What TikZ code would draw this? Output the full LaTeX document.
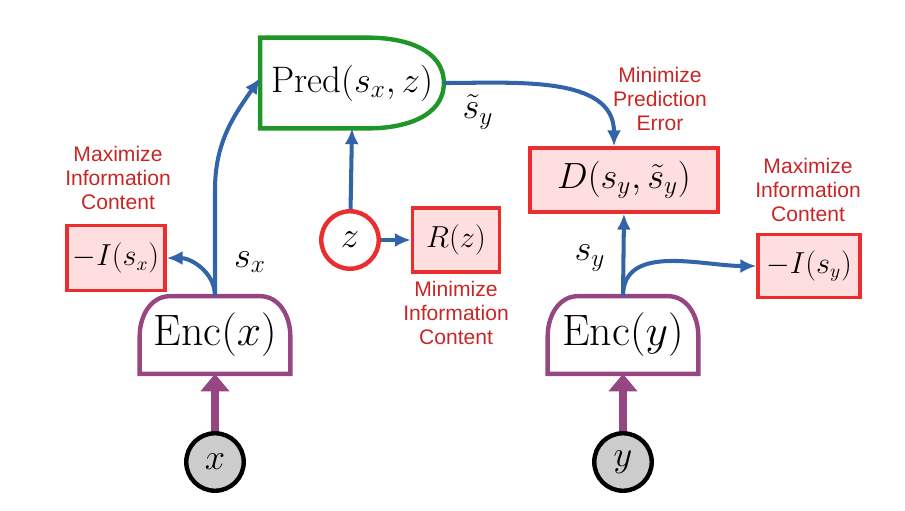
\documentclass[tikz,border=0pt]{standalone}
\usepackage{fontspec}
\newfontfamily\notefont{Liberation Sans}
\usetikzlibrary{positioning,arrows.meta}
\definecolor{encpurple}{RGB}{150,70,130}
\definecolor{predgreen}{RGB}{30,150,40}
\definecolor{costred}{RGB}{235,45,45}
\definecolor{costfill}{RGB}{255,222,224}
\definecolor{flowblue}{RGB}{50,100,170}
\tikzset{
  cost/.style={draw=costred, fill=costfill, line width=2pt, inner sep=3pt},
  note/.style={text=costred!85!black, font=\notefont\fontsize{12}{13.5}\selectfont, align=center, inner sep=1pt},
  flow/.style={draw=flowblue, line width=2.3pt, -{Latex[length=9pt,width=8pt]}},
  feed/.style={draw=encpurple, line width=5pt, -{Triangle[length=10pt,width=16pt]}},
  var/.style={circle, draw, line width=2.5pt, minimum size=1.15cm, inner sep=0pt, font=\fontsize{22}{24}\selectfont}
}
\begin{document}
\begin{tikzpicture}[x=0.02cm,y=-0.02cm]
        \useasboundingbox (0,0) rectangle (905,510);
        % Nodes
        \node (encx) at (215,335) [minimum width=3cm, minimum height=1.54cm, font=\fontsize{25}{28}\selectfont] {$\mathrm{Enc}(x)$};
        \node (ency) at (623,335) [minimum width=3cm, minimum height=1.54cm, font=\fontsize{25}{28}\selectfont] {$\mathrm{Enc}(y)$};
        \node (pred) at (352,83) [minimum width=3.66cm, minimum height=1.8cm, font=\fontsize{21}{24}\selectfont] {$\mathrm{Pred}(s_x,z)$};
        \node (x) at (215,462) [var, fill=black!20] {$x$};
        \node (y) at (623,462) [var, fill=black!20] {$y$};
        \node (z) at (350,240) [var, draw=costred, fill=white] {$z$};
        \node (rz) at (456,240) [cost, minimum width=1.74cm, minimum height=1.28cm, font=\fontsize{19}{22}\selectfont] {$R(z)$};
        \node (ix) at (116,258) [cost, minimum width=1.96cm, minimum height=1.3cm, font=\fontsize{16}{18}\selectfont] {$-I(s_x)$};
        \node (iy) at (809,266) [cost, minimum width=2.04cm, minimum height=1.26cm, font=\fontsize{16}{18}\selectfont] {$-I(s_y)$};
        \node (dist) at (624,180) [cost, minimum width=3.76cm, minimum height=1.28cm, font=\fontsize{21}{24}\selectfont] {$D(s_y,\tilde{s}_y)$};
        % Notes
        \node [note] at (118,178) {Maximize\\Information\\Content};
        \node [note] at (456,313) {Minimize\\Information\\Content};
        \node [note] at (660,99) {Minimize\\Prediction\\Error};
        \node [note] at (808,190) {Maximize\\Information\\Content};
        % Shapes
        \foreach \e in {encx,ency} {
            \draw[encpurple, line width=2.5pt] (\e.south west) -- ([yshift=-0.8cm]\e.north west)
                to[out=90,in=180] ([xshift=-0.9cm]\e.north) -- ([xshift=0.9cm]\e.north)
                to[out=0,in=90] ([yshift=-0.8cm]\e.north east) -- (\e.south east) -- cycle;
        }
        \draw[predgreen, line width=2.5pt] (pred.south west) -- (pred.north west) -- ([xshift=-1.5cm]pred.north east)
            to[out=0,in=90] (pred.east) to[out=-90,in=0] ([xshift=-1.5cm]pred.south east) -- cycle;
        % Edges
        \draw[feed] (x) -- (encx.south);
        \draw[feed] (y) -- (ency.south);
        \coordinate (sx) at (encx.north);
        \coordinate (sy) at (ency.north);
        \draw[flow] (sx) -- (215,190) to[out=90,in=235] ([yshift=0.1cm]pred.west);
        \draw[flow] (sx) to[out=90,in=0] (ix.east);
        \draw[flow] (z) -- (pred.south);
        \draw[flow] (z) -- (rz);
        \draw[flow] (pred.east) to[out=0,in=90] ([xshift=-0.2cm]dist.north);
        \draw[flow] (sy) -- (dist.south);
        \draw[flow] (sy) to[out=90,in=180] (iy.west);
        % Labels
        \node at (250,262) [font=\fontsize{22}{24}\selectfont] {$s_x$};
        \node at (590,258) [font=\fontsize{22}{24}\selectfont] {$s_y$};
        \node at (478,112) [font=\fontsize{22}{24}\selectfont] {$\tilde{s}_y$};
\end{tikzpicture}
\end{document}
